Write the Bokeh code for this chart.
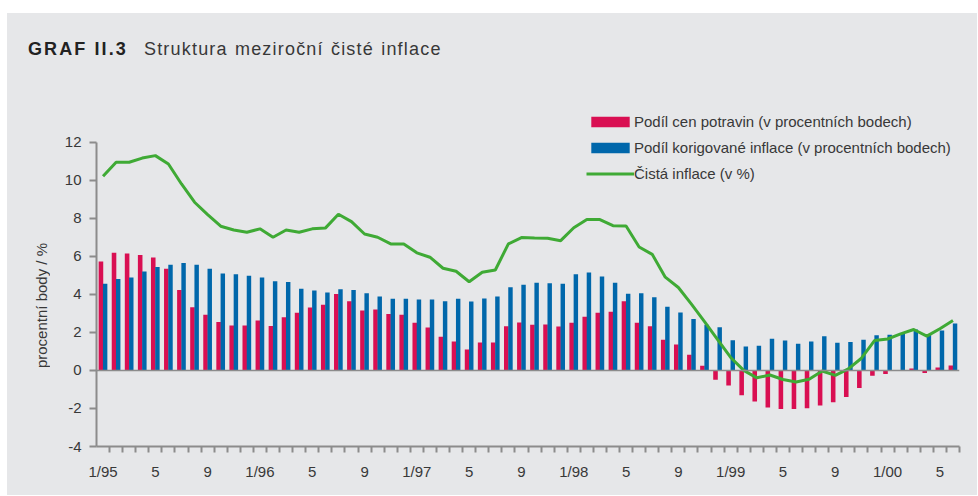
from bokeh.plotting import figure
from bokeh.models import (ColumnDataSource, Range1d, FixedTicker, Span,
                          Legend, LegendItem, Spacer, Div)
from bokeh.layouts import column, row
from bokeh.transform import dodge
from bokeh.embed import file_html
from bokeh.resources import INLINE

# ---- data: monthly, 1/1995 .. 6/2000 ----
months = list(range(66))

food_share = [5.72, 6.18, 6.14, 6.07, 5.93, 5.34, 4.23, 3.32, 2.92, 2.54,
              2.36, 2.36, 2.62, 2.34, 2.80, 3.03, 3.31, 3.45, 4.02, 3.64,
              3.15, 3.20, 2.96, 2.92, 2.50, 2.26, 1.77, 1.52, 1.10, 1.47,
              1.47, 2.32, 2.52, 2.40, 2.41, 2.31, 2.50, 2.82, 3.03, 3.08,
              3.64, 2.50, 2.32, 1.61, 1.36, 0.82, 0.25, -0.49, -0.79, -1.30,
              -1.64, -1.95, -2.03, -2.03, -1.99, -1.84, -1.68, -1.40, -0.93, -0.28,
              -0.19, 0.00, 0.10, -0.14, 0.15, 0.26]

core_share = [4.55, 4.81, 4.88, 5.20, 5.44, 5.56, 5.65, 5.56, 5.34, 5.09,
              5.06, 4.97, 4.88, 4.69, 4.65, 4.29, 4.20, 4.09, 4.27, 4.22,
              4.06, 3.88, 3.76, 3.76, 3.73, 3.73, 3.64, 3.76, 3.62, 3.78,
              3.88, 4.37, 4.50, 4.61, 4.58, 4.56, 5.06, 5.15, 4.93, 4.61,
              4.03, 4.06, 3.84, 3.35, 3.04, 2.70, 2.40, 2.27, 1.58, 1.26,
              1.29, 1.66, 1.57, 1.40, 1.52, 1.80, 1.45, 1.49, 1.61, 1.85,
              1.87, 1.96, 2.15, 1.92, 2.10, 2.47]

net_inflation = [10.20, 10.94, 10.94, 11.16, 11.29, 10.85, 9.80, 8.84, 8.19, 7.58,
                 7.38, 7.26, 7.44, 7.00, 7.38, 7.26, 7.44, 7.48, 8.21, 7.82,
                 7.17, 7.00, 6.65, 6.65, 6.18, 5.95, 5.37, 5.21, 4.66, 5.16,
                 5.28, 6.65, 6.98, 6.96, 6.95, 6.82, 7.50, 7.93, 7.93, 7.61,
                 7.59, 6.49, 6.10, 4.90, 4.36, 3.48, 2.56, 1.62, 0.68, 0.00,
                 -0.39, -0.24, -0.48, -0.61, -0.47, -0.03, -0.26, 0.08, 0.64, 1.57,
                 1.65, 1.92, 2.15, 1.80, 2.19, 2.62]

x_tick_positions = list(range(0, 66, 4))
x_tick_labels = ["1/95", "5", "9", "1/96", "5", "9", "1/97", "5", "9",
                 "1/98", "5", "9", "1/99", "5", "9", "1/00", "5"]
y_ticks = [-4, -2, 0, 2, 4, 6, 8, 10, 12]

series_names = ["Podíl cen potravin (v procentních bodech)",
                "Podíl korigované inflace (v procentních bodech)",
                "Čistá inflace (v %)"]
title_bold = "GRAF II.3"
title_text = "Struktura meziroční čisté inflace"
y_label = "procentní body / %"

# ---- styles ----
BG = "#e6e7e9"
RED = "#d90f52"
BLUE = "#0067ab"
GREEN = "#3faa35"
AXIS = "#8c8c8c"
TEXT = "#383838"
FONT = "Liberation Sans"

src = ColumnDataSource(dict(m=months, food=food_share, core=core_share, net=net_inflation))

p = figure(width=920, height=439, title=None,
           x_range=Range1d(-0.5, 65.5), y_range=Range1d(-4, 16.5),
           output_backend="svg", toolbar_location=None,
           min_border_left=39, min_border_right=18,
           min_border_top=0, min_border_bottom=49,
           background_fill_color=BG, border_fill_color=BG,
           outline_line_color=None)

p.xgrid.visible = False
p.ygrid.visible = False

r_food = p.vbar(x=dodge("m", -0.16, range=p.x_range), top="food", width=0.35,
                source=src, fill_color=RED, line_color=None)
r_core = p.vbar(x=dodge("m", 0.16, range=p.x_range), top="core", width=0.34,
                source=src, fill_color=BLUE, line_color=None)

p.add_layout(Span(location=0, dimension="width", line_color=AXIS, line_width=1.5))

r_net = p.line(x="m", y="net", source=src, line_color=GREEN, line_width=3)

# y axis
ya = p.yaxis[0]
ya.ticker = FixedTicker(ticks=y_ticks)
ya.bounds = (-4, 12)
ya.major_label_overrides = {v: str(v) for v in y_ticks}
ya.axis_line_color = AXIS
ya.axis_line_width = 2
ya.major_tick_line_color = AXIS
ya.major_tick_line_width = 2
ya.major_tick_out = 7
ya.major_tick_in = 0
ya.minor_tick_line_color = None
ya.major_label_standoff = 8
ya.major_label_text_font = FONT
ya.major_label_text_font_size = "15px"
ya.major_label_text_color = TEXT

# x axis
xa = p.xaxis[0]
xa.ticker = FixedTicker(ticks=x_tick_positions,
                        minor_ticks=[k - 0.5 for k in range(1, 67)])
xa.major_label_overrides = {pos: lab for pos, lab in zip(x_tick_positions, x_tick_labels)}
xa.axis_line_color = AXIS
xa.axis_line_width = 2
xa.major_tick_line_color = None
xa.major_tick_out = 0
xa.major_tick_in = 0
xa.minor_tick_line_color = AXIS
xa.minor_tick_line_width = 2
xa.minor_tick_out = 6
xa.minor_tick_in = 0
xa.major_label_standoff = 10
xa.major_label_text_font = FONT
xa.major_label_text_font_size = "15px"
xa.major_label_text_color = TEXT

# legend
legend = Legend(items=[LegendItem(label=series_names[0], renderers=[r_food]),
                       LegendItem(label=series_names[1], renderers=[r_core]),
                       LegendItem(label=series_names[2], renderers=[r_net])],
                location=(490, 263), orientation="vertical",
                glyph_width=48, glyph_height=13, label_height=20,
                label_standoff=0, spacing=6, padding=0, margin=0,
                border_line_color=None, background_fill_alpha=0,
                label_text_font=FONT, label_text_font_size="15px",
                label_text_color=TEXT)
p.add_layout(legend)

# heading (bold number + normal text)
heading = Div(
    text=("<div style=\"padding:26.8px 0 0 21px; font-family:'Liberation Sans'; "
          "font-size:18px; line-height:18px; color:%s; white-space:nowrap;\">"
          "<span style=\"font-weight:bold; letter-spacing:2.1px; color:#222222;\">%s</span>"
          "<span style=\"letter-spacing:1.2px; word-spacing:1px; margin-left:16px;\">%s</span>"
          "</div>") % (TEXT, title_bold, title_text),
    width=970, height=43,
    styles={"background-color": BG, "margin": "0", "padding": "0"})

# rotated y-axis title, reading bottom to top
ytitle = Div(
    text=("<div style=\"margin:187px 0 0 26px; font-family:'Liberation Sans'; "
          "font-size:15px; line-height:17px; color:%s; white-space:nowrap; "
          "writing-mode:vertical-rl; transform:rotate(180deg);\">%s</div>") % (TEXT, y_label),
    width=50, height=439,
    styles={"background-color": BG, "margin": "0", "padding": "0"})

panel = column(heading, row(ytitle, p, spacing=0), spacing=0,
               styles={"background-color": BG})
layout = row(Spacer(width=7, height=10),
             column(Spacer(width=970, height=13), panel, spacing=0),
             spacing=0)
open("out.html", "w").write(file_html(layout, INLINE))
